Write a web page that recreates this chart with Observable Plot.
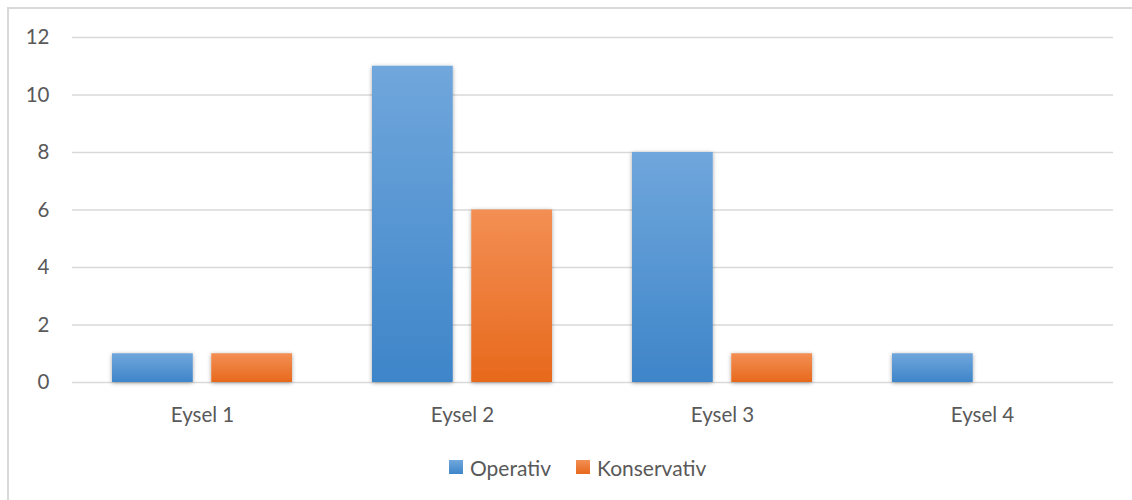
<!DOCTYPE html>
<html>
<head>
<meta charset="utf-8">
<script src="https://cdn.jsdelivr.net/npm/d3@7"></script>
<script src="https://cdn.jsdelivr.net/npm/@observablehq/plot@0.6"></script>
<style>
  html, body { margin: 0; padding: 0; background: #fff; overflow: hidden; }
  body { width: 1132px; height: 500px; position: relative; font-family: Lato, "Open Sans", sans-serif; }
  #frame { position: absolute; left: 7px; top: 7px; width: 1140px; height: 520px;
           border-left: 2px solid #d9d9d9; border-top: 2px solid #d9d9d9; box-sizing: border-box; }
  #chart { position: absolute; left: 0; top: 0; }
  #legend { position: absolute; left: 449px; top: 455px; height: 24px; display: flex; align-items: center;
            font-size: 21px; color: #595959; }
  .item { display: flex; align-items: center; margin-right: 25px; }
  .swatch { width: 14px; height: 14px; margin-right: 7px; }
</style>
</head>
<body>
<div id="frame"></div>
<div id="chart"></div>
<div id="legend"></div>
<script>
// Patients per Eysel grade, by treatment
const categories = ["Eysel 1", "Eysel 2", "Eysel 3", "Eysel 4"];
const operativ = [1, 11, 8, 1];
const konservativ = [1, 6, 1, 0];
const yTicks = [0, 2, 4, 6, 8, 10, 12];
const seriesNames = ["Operativ", "Konservativ"];

const rows = categories.flatMap((c, i) => [
  {category: c, series: "Operativ", value: operativ[i]},
  {category: c, series: "Konservativ", value: konservativ[i]}
]);

const textColor = "#595959";
const gridColor = "#d9d9d9";
const groupWidth = 180.25;
const barWidth = 81;

const chart = Plot.plot({
  width: 1132,
  height: 430,
  marginLeft: 72,
  marginRight: 19,
  marginTop: 37,
  marginBottom: 48,
  style: {fontFamily: "Lato, 'Open Sans', sans-serif", background: "transparent", overflow: "visible"},
  x: {domain: categories, paddingInner: 0.3074, paddingOuter: 0.1537, label: null},
  y: {domain: [0, 12], ticks: yTicks, label: null},
  marks: [
    Plot.ruleY(yTicks.filter(t => t > 0), {stroke: gridColor, strokeWidth: 1.3}),
    Plot.ruleY([0], {stroke: gridColor, strokeWidth: 1.6}),
    // Operativ on the left of each group, Konservativ on the right
    Plot.barY(rows.filter(d => d.series === "Operativ" && d.value > 0), {
      x: "category", y: "value", fill: "url(#grad-operativ)",
      insetRight: groupWidth - barWidth
    }),
    Plot.barY(rows.filter(d => d.series === "Konservativ" && d.value > 0), {
      x: "category", y: "value", fill: "url(#grad-konservativ)",
      insetLeft: groupWidth - barWidth
    }),
    Plot.axisX({tickSize: 0, tickPadding: 25, fontSize: 20.5, color: textColor}),
    Plot.axisY({ticks: yTicks, tickSize: 0, tickPadding: 23, fontSize: 20.5, color: textColor})
  ]
});

// gradient fills and soft shadow for the bars
const defs = d3.select(chart).insert("defs", ":first-child");
const gradients = [
  {id: "grad-operativ", top: "#70a7dc", bottom: "#3e85c9"},
  {id: "grad-konservativ", top: "#f38f54", bottom: "#e7691c"}
];
for (const g of gradients) {
  const lg = defs.append("linearGradient").attr("id", g.id)
    .attr("x1", 0).attr("y1", 0).attr("x2", 0).attr("y2", 1);
  lg.append("stop").attr("offset", "0%").attr("stop-color", g.top);
  lg.append("stop").attr("offset", "100%").attr("stop-color", g.bottom);
}
defs.append("filter").attr("id", "bar-shadow")
  .attr("x", "-20%").attr("y", "-20%").attr("width", "140%").attr("height", "140%")
  .append("feDropShadow")
  .attr("dx", 0).attr("dy", 1).attr("stdDeviation", 2.2)
  .attr("flood-color", "#000").attr("flood-opacity", 0.35);
d3.select(chart).selectAll("g[aria-label='bar']").attr("filter", "url(#bar-shadow)");

document.getElementById("chart").appendChild(chart);

// legend
const legend = d3.select("#legend");
seriesNames.forEach((name, i) => {
  const g = gradients[i];
  const item = legend.append("div").attr("class", "item");
  item.append("div").attr("class", "swatch")
    .style("background", `linear-gradient(${g.top}, ${g.bottom})`);
  item.append("span").text(name);
});
</script>
</body>
</html>
